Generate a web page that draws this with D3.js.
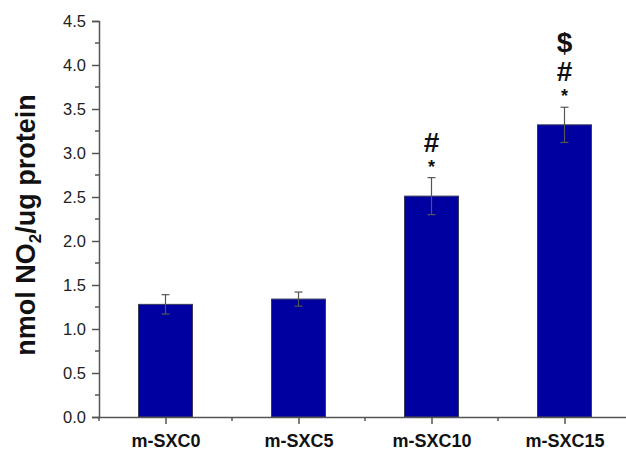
<!DOCTYPE html>
<html>
<head>
<meta charset="utf-8">
<script src="https://cdn.jsdelivr.net/npm/d3@7/dist/d3.min.js"></script>
<style>
  html, body { margin: 0; padding: 0; background: #fff; }
  svg { display: block; font-family: "Liberation Sans", Arial, sans-serif; }
</style>
</head>
<body>
<svg id="chart" width="626" height="454"></svg>
<script>
// Nitrite content per sample group
const categories = ["m-SXC0", "m-SXC5", "m-SXC10", "m-SXC15"];
const means = [1.28, 1.34, 2.51, 3.32];
const errors = [0.11, 0.08, 0.21, 0.20];
const marks = [[], [], ["*", "#"], ["*", "#", "$"]];
const yTicks = [0, 0.5, 1, 1.5, 2, 2.5, 3, 3.5, 4, 4.5];

const svg = d3.select("#chart");
const x0 = 99, x1 = 631, yTop = 21, yBot = 417;

const x = d3.scaleLinear().domain([0.5, categories.length + 0.5]).range([x0, x1]);
const y = d3.scaleLinear().domain([0, 4.5]).range([yBot, yTop]);
const barW = 54;
const axisColor = "#555";

// Bars
svg.selectAll("rect.bar").data(means).join("rect")
  .attr("class", "bar")
  .attr("x", (d, i) => x(i + 1) - barW / 2)
  .attr("y", d => y(d))
  .attr("width", barW)
  .attr("height", d => y(0) - y(d))
  .attr("fill", "#0000a0")
  .attr("stroke", "#3a3a5a")
  .attr("stroke-width", 1);

// Error bars
const eb = svg.append("g").attr("stroke", "#555").attr("stroke-width", 1.2);
means.forEach((m, i) => {
  const cx = x(i + 1);
  eb.append("line").attr("x1", cx).attr("x2", cx).attr("y1", y(m - errors[i])).attr("y2", y(m + errors[i]));
  eb.append("line").attr("x1", cx - 4).attr("x2", cx + 4).attr("y1", y(m + errors[i])).attr("y2", y(m + errors[i]));
  eb.append("line").attr("x1", cx - 4).attr("x2", cx + 4).attr("y1", y(m - errors[i])).attr("y2", y(m - errors[i]));
});

// Significance markers stacked above error bars (baseline offsets from the bar's upper whisker)
const markStyle = {
  "*": { size: 18, off: 5 },
  "#": { size: 28, off: 26 },
  "$": { size: 28, off: 55 }
};
marks.forEach((ms, i) => {
  const cx = x(i + 1);
  const top = y(means[i] + errors[i]);
  ms.forEach(s => {
    svg.append("text")
      .attr("x", cx).attr("y", top - markStyle[s].off)
      .attr("text-anchor", "middle")
      .attr("font-size", markStyle[s].size)
      .attr("font-weight", "bold")
      .attr("fill", "#111")
      .text(s);
  });
});

// Y axis
const yAxis = d3.axisLeft(y).tickValues(yTicks).tickFormat(d3.format(".1f")).tickSize(7).tickPadding(6);
const gy = svg.append("g").attr("transform", `translate(${x0},0)`).call(yAxis);
gy.select(".domain").attr("stroke", axisColor).attr("stroke-width", 1.5);
gy.selectAll(".tick line").attr("stroke", axisColor).attr("stroke-width", 1.5);
gy.selectAll(".tick text").attr("font-size", 16.5).attr("fill", "#222")
  .attr("font-family", "Liberation Sans, Arial, sans-serif");
// minor y ticks
const minorY = d3.range(0.25, 4.5, 0.5);
svg.append("g").selectAll("line").data(minorY).join("line")
  .attr("x1", x0 - 4).attr("x2", x0).attr("y1", d => y(d)).attr("y2", d => y(d))
  .attr("stroke", axisColor).attr("stroke-width", 1.5);

// X axis
const xAxis = d3.axisBottom(x).tickValues(d3.range(1, categories.length + 1))
  .tickFormat(d => categories[d - 1]).tickSize(7).tickPadding(10).tickSizeOuter(0);
const gx = svg.append("g").attr("transform", `translate(0,${yBot})`).call(xAxis);
gx.select(".domain").attr("stroke", axisColor).attr("stroke-width", 1.5);
gx.selectAll(".tick line").attr("stroke", axisColor).attr("stroke-width", 1.5);
gx.selectAll(".tick text").attr("font-size", 18).attr("font-weight", "bold").attr("fill", "#111")
  .attr("font-family", "Liberation Sans, Arial, sans-serif");
// minor x ticks between categories
const minorX = d3.range(0.5, categories.length + 0.6, 1);
svg.append("g").selectAll("line").data(minorX).join("line")
  .attr("x1", d => x(d)).attr("x2", d => x(d)).attr("y1", yBot).attr("y2", yBot + 4)
  .attr("stroke", axisColor).attr("stroke-width", 1.5);

// Y axis title
const title = svg.append("text")
  .attr("transform", `translate(35,225) rotate(-90)`)
  .attr("text-anchor", "middle")
  .attr("font-size", 27).attr("font-weight", "bold").attr("fill", "#111");
title.append("tspan").text("nmol NO");
title.append("tspan").attr("font-size", 17).attr("dy", 6).text("2");
title.append("tspan").attr("dy", -6).text("/ug protein");
</script>
</body>
</html>
